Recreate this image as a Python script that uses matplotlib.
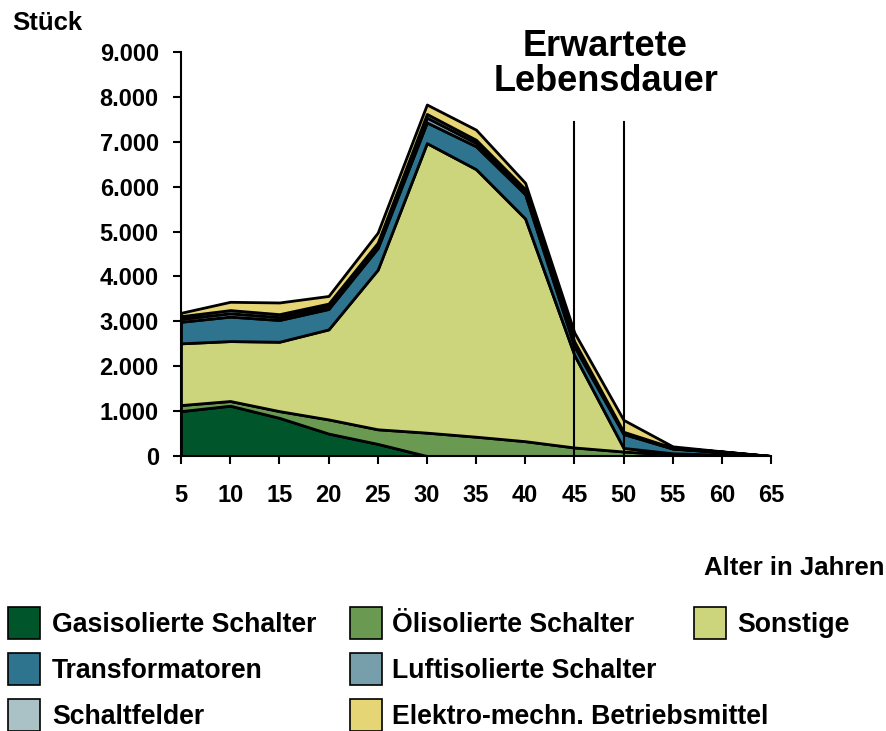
import matplotlib
matplotlib.use("Agg")
import matplotlib.pyplot as plt
from matplotlib.patches import Rectangle

plt.rcParams['font.family'] = ['Liberation Sans', 'DejaVu Sans']
plt.rcParams['font.weight'] = 'bold'

# ---- data ----
ages = [5, 10, 15, 20, 25, 30, 35, 40, 45, 50, 55, 60, 65]
gasisoliert = [1000, 1120, 850, 500, 270, 0, 0, 0, 0, 0, 0, 0, 0]
oelisoliert = [135, 105, 150, 315, 325, 520, 430, 330, 190, 100, 30, 0, 0]
sonstige = [1375, 1335, 1545, 2005, 3555, 6450, 5960, 4960, 2060, 80, 30, 30, 0]
transformatoren = [480, 545, 485, 455, 480, 460, 510, 540, 190, 310, 105, 55, 0]
luftisoliert = [65, 75, 65, 60, 60, 110, 75, 60, 55, 25, 10, 5, 0]
schaltfelder = [60, 70, 65, 60, 60, 80, 70, 55, 55, 25, 10, 10, 0]
elektro = [75, 185, 260, 170, 225, 210, 225, 140, 200, 265, 30, 5, 0]

series_names = ["Gasisolierte Schalter", "Ölisolierte Schalter", "Sonstige",
                "Transformatoren", "Luftisolierte Schalter", "Schaltfelder",
                "Elektro-mechn. Betriebsmittel"]
colors = ["#00552b", "#6a9a52", "#ccd47c", "#2f748e", "#769eab", "#aac1c6", "#e6d574"]

yticks = [0, 1000, 2000, 3000, 4000, 5000, 6000, 7000, 8000, 9000]
ytick_labels = ["0", "1.000", "2.000", "3.000", "4.000", "5.000", "6.000",
                "7.000", "8.000", "9.000"]
lifetime_marks = [45, 50]
lifetime_top = 7440

# ---- figure ----
W, H = 886, 731
fig = plt.figure(figsize=(W / 100, H / 100), dpi=100)
ax = fig.add_axes([181 / W, 1 - 456 / H, (771 - 181) / W, (456 - 52) / H])

ax.stackplot(ages, gasisoliert, oelisoliert, sonstige, transformatoren,
             luftisoliert, schaltfelder, elektro, colors=colors,
             edgecolor="black", linewidth=2.0)

for xm in lifetime_marks:
    ax.plot([xm, xm], [0, lifetime_top], color="black", linewidth=1.5, zorder=5)

ax.set_xlim(5, 65)
ax.set_ylim(0, 9000)
ax.set_xticks(ages)
ax.set_xticklabels([str(a) for a in ages])
ax.set_yticks(yticks)
ax.set_yticklabels(ytick_labels)
for s in ["top", "right"]:
    ax.spines[s].set_visible(False)
for s in ["left", "bottom"]:
    ax.spines[s].set_linewidth(1.5)
ax.tick_params(axis="both", direction="out", length=6, width=1.5,
               labelsize=17)
ax.tick_params(axis="x", pad=14)
ax.tick_params(axis="y", pad=10)
for lab in ax.get_xticklabels() + ax.get_yticklabels():
    lab.set_fontweight("bold")

# texts
fig.text(12 / W, 1 - 30 / H, "Stück", fontsize=18.5, fontweight="bold",
         ha="left", va="baseline")
fig.text(605 / W, 1 - 56 / H, "Erwartete", fontsize=26, fontweight="bold",
         ha="center", va="baseline")
fig.text(606 / W, 1 - 91 / H, "Lebensdauer", fontsize=26, fontweight="bold",
         ha="center", va="baseline")
fig.text(884 / W, 1 - 575 / H, "Alter in Jahren", fontsize=18.5, fontweight="bold",
         ha="right", va="baseline")

# legend (manual grid)
col_sq = [8, 350, 694]
col_tx = [52, 392, 737]
row_c = [623, 669, 715]
layout = [(0, 0), (0, 1), (0, 2), (1, 0), (1, 1), (2, 0), (2, 1)]
sq = 32
for i, (r, c) in enumerate(layout):
    x0 = col_sq[c]
    yc = row_c[r]
    fig.patches.append(Rectangle((x0 / W, 1 - (yc + sq / 2) / H), sq / W, sq / H,
                                 transform=fig.transFigure, facecolor=colors[i],
                                 edgecolor="black", linewidth=1.2))
    fig.text(col_tx[c] / W, 1 - (yc + 9) / H, series_names[i], fontsize=19.2,
             fontweight="bold", ha="left", va="baseline")

fig.savefig("out.png", dpi=100)
